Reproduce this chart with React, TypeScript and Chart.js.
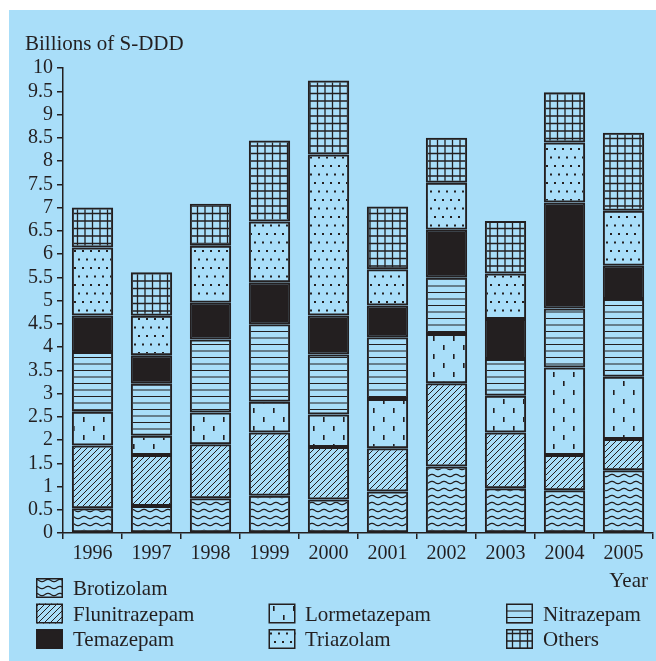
import React, { useEffect, useRef } from 'react';
import { Chart, registerables } from 'chart.js';

Chart.register(...registerables);

const categories = ['1996', '1997', '1998', '1999', '2000', '2001', '2002', '2003', '2004', '2005'];
const brotizolam = [0.53, 0.58, 0.75, 0.8, 0.72, 0.89, 1.43, 0.96, 0.92, 1.35];
const flunitrazepam = [1.35, 1.1, 1.16, 1.36, 1.13, 0.93, 1.79, 1.2, 0.76, 0.67];
const lormetazepam = [0.73, 0.41, 0.68, 0.66, 0.7, 1.06, 1.06, 0.79, 1.88, 1.34];
const nitrazepam = [1.28, 1.12, 1.57, 1.67, 1.29, 1.33, 1.22, 0.79, 1.27, 1.67];
const temazepam = [0.79, 0.61, 0.79, 0.9, 0.84, 0.68, 1.02, 0.86, 2.28, 0.72];
const triazolam = [1.46, 0.85, 1.23, 1.31, 3.46, 0.78, 1.01, 0.98, 1.29, 1.18];
const others = [0.86, 0.94, 0.9, 1.74, 1.59, 1.35, 0.97, 1.13, 1.08, 1.68];

const seriesNames = ['Brotizolam', 'Flunitrazepam', 'Lormetazepam', 'Nitrazepam', 'Temazepam', 'Triazolam', 'Others'];
const seriesValues = [brotizolam, flunitrazepam, lormetazepam, nitrazepam, temazepam, triazolam, others];
const patternKinds = ['wave', 'diag', 'dash', 'hline', 'solid', 'dots', 'grid'];

const yTitle = 'Billions of S-DDD';
const xTitle = 'Year';

const INK = '#231f20';
const BG = '#a9def9';
const FONT = '"Liberation Serif", "Times New Roman", serif';

function makePattern(ctx: CanvasRenderingContext2D, kind: string): CanvasPattern | string {
  if (kind === 'solid') return INK;
  const t = document.createElement('canvas');
  let w = 10, h = 10;
  if (kind === 'wave') { w = 12; h = 7; }
  if (kind === 'diag') { w = 6; h = 6; }
  if (kind === 'dash') { w = 20; h = 18; }
  if (kind === 'hline') { w = 4; h = 13; }
  if (kind === 'dots') { w = 8; h = 17; }
  if (kind === 'grid') { w = 15; h = 15; }
  t.width = w; t.height = h;
  const c = t.getContext('2d')!;
  c.strokeStyle = INK;
  c.fillStyle = INK;
  if (kind === 'wave') {
    c.lineWidth = 1.3;
    c.beginPath();
    for (let x = -1; x <= w + 1; x += 0.5) {
      const y = 3.5 - 1.1 * Math.sin((2 * Math.PI * x) / w);
      if (x === -1) c.moveTo(x, y); else c.lineTo(x, y);
    }
    c.stroke();
  } else if (kind === 'diag') {
    c.lineWidth = 1;
    c.beginPath();
    c.moveTo(-1, h + 1); c.lineTo(w + 1, -1);
    c.moveTo(-1, 1); c.lineTo(1, -1);
    c.moveTo(w - 1, h + 1); c.lineTo(w + 1, h - 1);
    c.stroke();
  } else if (kind === 'dash') {
    c.fillRect(4, 2, 1.6, 5);
    c.fillRect(14, 11, 1.6, 5);
  } else if (kind === 'hline') {
    c.lineWidth = 1.2;
    c.beginPath();
    c.moveTo(0, 3); c.lineTo(w, 3);
    c.moveTo(0, 9.5); c.lineTo(w, 9.5);
    c.stroke();
  } else if (kind === 'dots') {
    c.fillRect(1, 2, 2, 2);
    c.fillRect(5, 10.5, 2, 2);
  } else if (kind === 'grid') {
    c.lineWidth = 1.3;
    c.beginPath();
    c.moveTo(1, 0); c.lineTo(1, h);
    c.moveTo(8.5, 0); c.lineTo(8.5, h);
    c.moveTo(0, 1); c.lineTo(w, 1);
    c.moveTo(0, 8.5); c.lineTo(w, 8.5);
    c.stroke();
  }
  return ctx.createPattern(t, 'repeat')!;
}

// legend layout: [seriesIndex, column, row]
const legendLayout: [number, number, number][] = [
  [0, 0, 0],
  [1, 0, 1], [2, 1, 1], [3, 2, 1],
  [4, 0, 2], [5, 1, 2], [6, 2, 2],
];

export default function App() {
  const ref = useRef<HTMLCanvasElement>(null);
  useEffect(() => {
    const canvas = ref.current!;
    const ctx = canvas.getContext('2d')!;
    const fills = patternKinds.map((k) => makePattern(ctx, k));

    const decor = {
      id: 'decor',
      afterDraw(chart: any) {
        const c = chart.ctx as CanvasRenderingContext2D;
        c.save();
        c.fillStyle = INK;
        c.font = `21px ${FONT}`;
        c.textBaseline = 'alphabetic';
        c.textAlign = 'left';
        c.fillText(yTitle, 16, 40);
        c.textAlign = 'right';
        c.fillText(xTitle, 639, 577);
        c.textAlign = 'left';
        const colSwatch = [27, 259.5, 497];
        const colText = [64, 296, 534];
        const rowTop = [568, 593.5, 619];
        legendLayout.forEach(([si, col, row]) => {
          const x = colSwatch[col];
          const y = rowTop[row];
          c.fillStyle = fills[si] as any;
          c.fillRect(x, y, 27, 20);
          c.strokeStyle = INK;
          c.lineWidth = 1.5;
          c.strokeRect(x + 0.75, y + 0.75, 25.5, 18.5);
          c.fillStyle = INK;
          c.fillText(seriesNames[si], colText[col], y + 17);
        });
        c.restore();
      },
    };

    const chart = new Chart(canvas, {
      type: 'bar',
      data: {
        labels: categories,
        datasets: seriesNames.map((name, i) => ({
          label: name,
          data: seriesValues[i],
          backgroundColor: fills[i] as any,
          borderColor: INK,
          borderWidth: 2,
          borderSkipped: false,
          categoryPercentage: 1,
          barPercentage: 0.7,
        })),
      },
      options: {
        responsive: false,
        animation: false,
        devicePixelRatio: 1,
        layout: { padding: { top: 58, right: 3, left: 0, bottom: 0 } },
        plugins: {
          legend: { display: false },
          title: { display: false },
          tooltip: { enabled: false },
        },
        scales: {
          x: {
            stacked: true,
            offset: true,
            afterFit: (s: any) => { s.height = 128; },
            border: { display: true, color: INK, width: 1.5 },
            grid: { offset: true, drawOnChartArea: false, drawTicks: true, tickLength: 6, color: INK, lineWidth: 1.5 },
            ticks: { color: INK, font: { family: FONT, size: 20 }, padding: 3, maxRotation: 0, autoSkip: false },
          },
          y: {
            stacked: true,
            min: 0,
            max: 10,
            afterFit: (s: any) => { s.width = 54; },
            border: { display: true, color: INK, width: 1.5 },
            grid: { drawOnChartArea: false, drawTicks: true, tickLength: 6, color: INK, lineWidth: 1.5 },
            ticks: {
              stepSize: 0.5,
              autoSkip: false,
              color: INK,
              font: { family: FONT, size: 20 },
              padding: 4,
              callback: (v: any) => String(v),
            },
          },
        },
      },
      plugins: [decor],
    });
    return () => chart.destroy();
  }, []);

  return (
    <div style={{ position: 'absolute', left: 9, top: 10, width: 647, height: 651, background: BG }}>
      <canvas ref={ref} width={647} height={651} style={{ display: 'block' }} />
    </div>
  );
}
